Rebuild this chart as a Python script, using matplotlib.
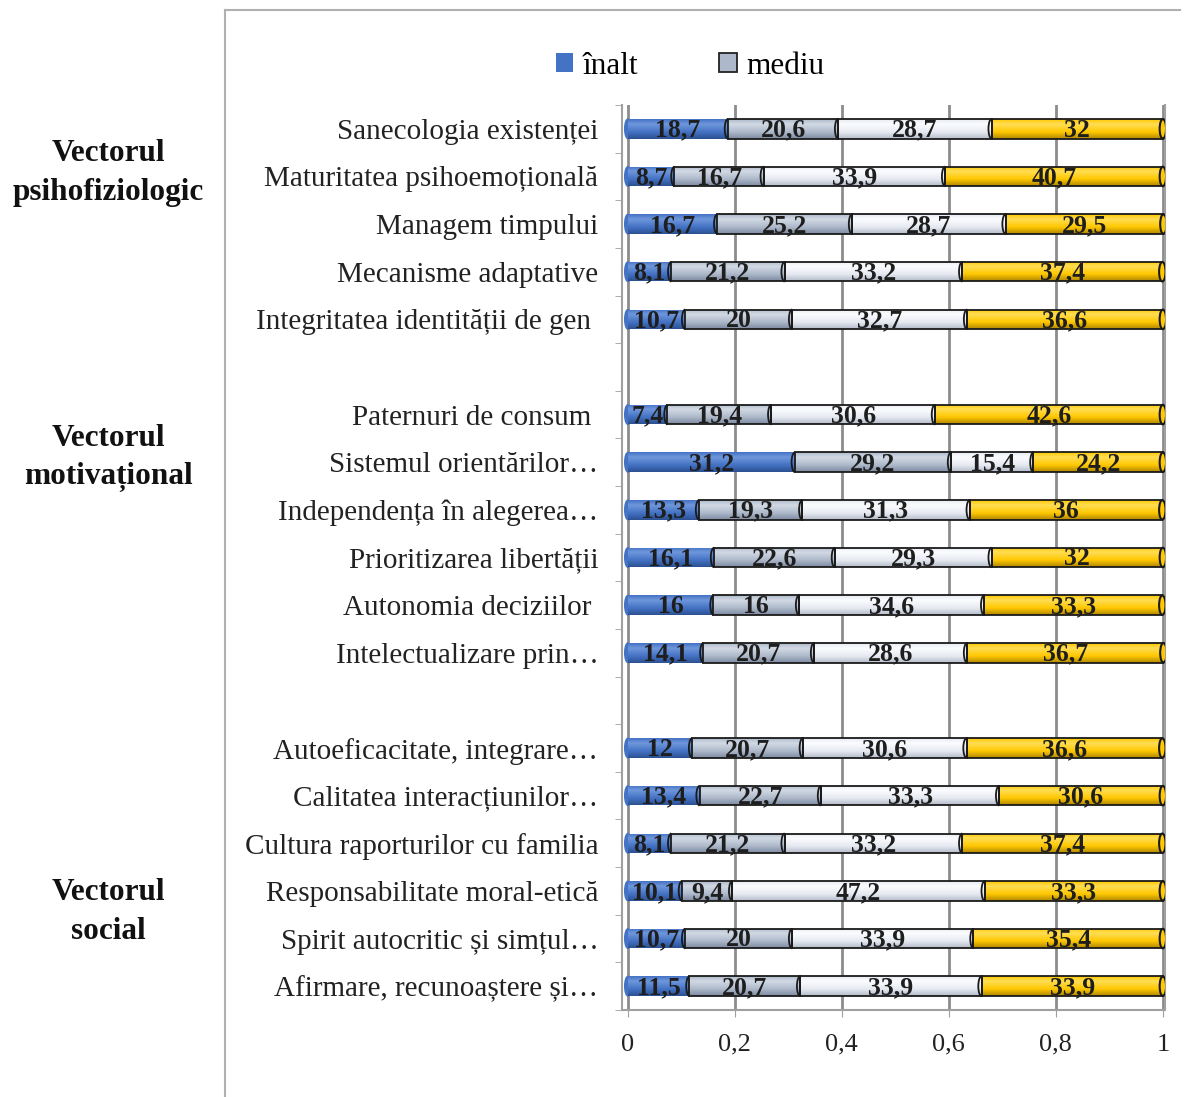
import numpy as np
import matplotlib
matplotlib.use("Agg")
import matplotlib.pyplot as plt
from matplotlib.colors import LinearSegmentedColormap
from matplotlib.patches import Patch, Ellipse, Arc
from matplotlib.lines import Line2D

# categories top to bottom ("" = empty gap row between groups)
categories = [
    "Sanecologia existenței",
    "Maturitatea psihoemoțională",
    "Managem timpului",
    "Mecanisme adaptative",
    "Integritatea identității de gen ",
    "",
    "Paternuri de consum ",
    "Sistemul orientărilor…",
    "Independența în alegerea…",
    "Prioritizarea libertății",
    "Autonomia deciziilor ",
    "Intelectualizare prin…",
    "",
    "Autoeficacitate, integrare…",
    "Calitatea interacțiunilor…",
    "Cultura raporturilor cu familia",
    "Responsabilitate moral-etică",
    "Spirit autocritic și simțul…",
    "Afirmare, recunoaștere și…",
]

inalt = [18.7, 8.7, 16.7, 8.1, 10.7, None, 7.4, 31.2, 13.3, 16.1, 16, 14.1,
         None, 12, 13.4, 8.1, 10.1, 10.7, 11.5]
mediu = [20.6, 16.7, 25.2, 21.2, 20, None, 19.4, 29.2, 19.3, 22.6, 16, 20.7,
         None, 20.7, 22.7, 21.2, 9.4, 20, 20.7]
scazut = [28.7, 33.9, 28.7, 33.2, 32.7, None, 30.6, 15.4, 31.3, 29.3, 34.6, 28.6,
          None, 30.6, 33.3, 33.2, 47.2, 33.9, 33.9]
foarte_scazut = [32, 40.7, 29.5, 37.4, 36.6, None, 42.6, 24.2, 36, 32, 33.3, 36.7,
                 None, 36.6, 30.6, 37.4, 33.3, 35.4, 33.9]

series_names = ["înalt", "mediu"]
groups = ["Vectorul\npsihofiziologic", "Vectorul\nmotivațional", "Vectorul\nsocial"]
group_y = [173, 458, 912]  # pixel rows of group labels

x_ticks = [0, 0.2, 0.4, 0.6, 0.8, 1]
x_tick_labels = ["0", "0,2", "0,4", "0,6", "0,8", "1"]

# (dark, base, light) for the cylinder shading
shades = [
    ("#2c5192", "#4472c4", "#6f97dc"),
    ("#7d8aa0", "#adb9ca", "#d2d9e4"),
    ("#b4bccb", "#e6eaf1", "#fbfcfe"),
    ("#b08600", "#ffc800", "#ffde55"),
]

plt.rcParams["font.family"] = ["Liberation Serif", "DejaVu Serif"]

W, H = 1190, 1097
fig = plt.figure(figsize=(W / 100, H / 100), dpi=100)
ax = fig.add_axes([622 / W, 1 - 1010 / H, (1165 - 622) / W, (1010 - 105) / H])

n = len(categories)
ypos = np.arange(n)[::-1]
bar_h = 0.41
cap_w = 0.012

values = [inalt, mediu, scazut, foarte_scazut]
left = np.zeros(n)
for k, ser in enumerate(values):
    dark, base, light = shades[k]
    cmap = LinearSegmentedColormap.from_list(
        "c%d" % k, [(0, dark), (0.35, base), (0.75, light), (1, base)])
    grad = np.linspace(0, 1, 64).reshape(-1, 1)
    for i in range(n):
        v = ser[i]
        if v is None:
            continue
        w = v / 100.0
        x0 = left[i]
        y0 = ypos[i] - bar_h / 2
        rect = ax.barh(ypos[i], w, left=x0, height=bar_h, color=base,
                       edgecolor="none", zorder=3)[0]
        im = ax.imshow(grad, extent=[x0, x0 + w, y0, y0 + bar_h], origin="lower",
                       aspect="auto", cmap=cmap, zorder=3.1)
        im.set_clip_path(rect)
        if k > 0:
            ax.barh(ypos[i], w, left=x0, height=bar_h, color="none",
                    edgecolor="#1a1a1a", linewidth=1.3, zorder=4)
            ax.add_patch(Arc((x0, ypos[i]), cap_w, bar_h, theta1=90, theta2=270,
                             color="#1a1a1a", linewidth=1.3, zorder=4.5))
        else:
            ax.add_patch(Ellipse((x0, ypos[i]), cap_w, bar_h, color=base, zorder=2.9))
        if k == len(values) - 1:
            ax.add_patch(Ellipse((x0 + w, ypos[i]), cap_w, bar_h, facecolor=base,
                                 edgecolor="#1a1a1a", linewidth=1.5, zorder=4.6))
        ax.text(x0 + w / 2, ypos[i] - 0.03, ("%g" % v).replace(".", ","), ha="center",
                va="center", fontsize=18.5, fontweight="bold", color="#1e1e1e",
                zorder=6)
        left[i] += w

ax.set_xlim(-0.011, 1.004)
ax.set_ylim(-0.5, n - 0.5)
ax.set_xticks(x_ticks)
ax.set_xticklabels(x_tick_labels, fontsize=19)
ax.set_yticks(ypos)
ax.set_yticklabels(categories, fontsize=21, color="#222222")
ax.set_yticks(np.arange(n + 1) - 0.5, minor=True)
ax.tick_params(axis="y", which="major", length=0, pad=17)
ax.tick_params(axis="y", which="minor", length=5, color="#a0a0a0")
ax.tick_params(axis="x", length=5, color="#a0a0a0", pad=12, colors="#222222")
ax.xaxis.grid(True, color="#8c8c8c", linewidth=2, zorder=0)
ax.set_axisbelow(True)
for s in ["left", "bottom", "right"]:
    ax.spines[s].set_color("#a0a0a0")
    ax.spines[s].set_linewidth(1.5)
ax.spines["top"].set_visible(False)

for g, gy in zip(groups, group_y):
    fig.text(108 / W, 1 - gy / H, g, ha="center", va="center", fontsize=22.5,
             fontweight="bold", color="#111111", linespacing=1.45)

handles = [Patch(facecolor=shades[0][1], edgecolor="none"),
           Patch(facecolor=shades[1][1], edgecolor="#222222", linewidth=1.3)]
fig.legend(handles, series_names, loc="center", bbox_to_anchor=(690 / W, 1 - 66 / H),
           ncol=2, frameon=False, fontsize=22.5, handlelength=0.55, handleheight=0.55,
           handletextpad=0.3, columnspacing=2.6)

# chart area border (only left and top visible in the crop)
fig.add_artist(Line2D([225 / W, 225 / W], [0, 1 - 10 / H], transform=fig.transFigure,
                      color="#b0b0b0", linewidth=1.5))
fig.add_artist(Line2D([225 / W, 1180 / W], [1 - 10 / H, 1 - 10 / H],
                      transform=fig.transFigure, color="#b0b0b0", linewidth=1.5))

fig.savefig("out.png", dpi=100)
